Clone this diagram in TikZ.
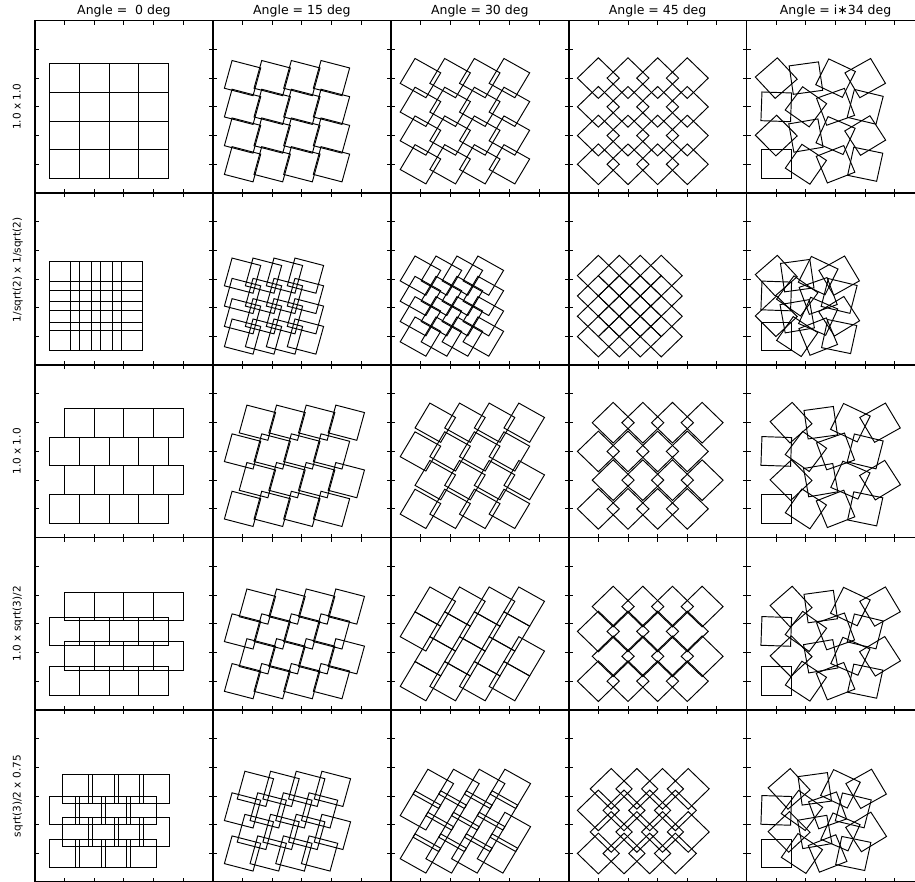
\documentclass[tikz,border=0pt]{standalone}
\usepackage{fontspec}
\setmainfont{DejaVu Sans}

\begin{document}
\begin{tikzpicture}[
  x=1pt, y=1pt,
  frame/.style={line width=1.6pt},
  tickmark/.style={line width=1pt},
  tile/.style={line width=0.95pt, line join=miter},
  coltitle/.style={anchor=base, inner sep=0pt, font=\fontsize{12.5}{15}\selectfont},
  rowlabel/.style={anchor=base, rotate=90, inner sep=0pt, font=\fontsize{10.5}{13}\selectfont}
]

\useasboundingbox (0,0) rectangle (915,882);
\clip (0,0) rectangle (915,882);

% --- COLUMN TITLES ------------------------------------------------
\node[coltitle] (t0) at (123.95,867) {Angle =\ \ 0 deg};
\node[coltitle] (t1) at (301.85,867) {Angle = 15 deg};
\node[coltitle] (t2) at (479.75,867) {Angle = 30 deg};
\node[coltitle] (t3) at (657.65,867) {Angle = 45 deg};
\node[coltitle] (t4) at (835.55,867) {Angle = i∗34 deg};

% --- ROW LABELS ---------------------------------------------------
\node[rowlabel] (l0) at (20.5,775.15) {1.0 x 1.0};
\node[rowlabel] (l1) at (20.5,612) {1/sqrt(2) x 1/sqrt(2)};
\node[rowlabel] (l2) at (20.5,430.55) {1.0 x 1.0};
\node[rowlabel] (l3) at (20.5,258.25) {1.0 x sqrt(3)/2};
\node[rowlabel] (l4) at (20.5,85.95) {sqrt(3)/2 x 0.75};

% --- PANELS: row / spacing x / spacing y / stagger -----------------
\foreach \r/\dx/\dy/\st in {0/1/1/0, 1/0.7071/0.7071/0, 2/1/1/0.5,
                            3/1/0.8660/0.5, 4/0.8660/0.75/0.4330} {
  \foreach \c/\ang in {0/0, 1/15, 2/30, 3/45, 4/-1} {
    \pgfmathsetmacro\px{35+177.9*\c}
    \pgfmathsetmacro\py{882-20.7-(\r+1)*172.3}
    \begin{scope}[shift={(\px pt,\py pt)}, x=29.65pt, y=28.72pt]
      % frame and inward ticks
      \draw[frame] (0,0) rectangle (6,6);
      \foreach \k in {1,...,5} {
        \draw[tickmark] (\k,0) -- (\k,0.14);
        \draw[tickmark] (\k,6) -- (\k,5.86);
        \draw[tickmark] (0,\k) -- (0.135,\k);
        \draw[tickmark] (6,\k) -- (5.865,\k);
      }
      % 4 x 4 tiles
      \foreach \ix in {0,...,3} {
        \foreach \iy in {0,...,3} {
          \pgfmathsetmacro\cx{1+\ix*\dx+\st*mod(\iy,2)}
          \pgfmathsetmacro\cy{1+\iy*\dy}
          \pgfmathsetmacro\rot{ifthenelse(\ang<0, -34*(\ix+4*\iy), -\ang)}
          \pgfmathsetmacro\aa{\rot+45}
          \pgfmathsetmacro\ab{\rot+135}
          \pgfmathsetmacro\ac{\rot+225}
          \pgfmathsetmacro\ad{\rot+315}
          \draw[tile, shift={(\cx,\cy)}]
            (\aa:0.7071) -- (\ab:0.7071) -- (\ac:0.7071) -- (\ad:0.7071) -- cycle;
        }
      }
    \end{scope}
  }
}

\end{tikzpicture}
\end{document}
